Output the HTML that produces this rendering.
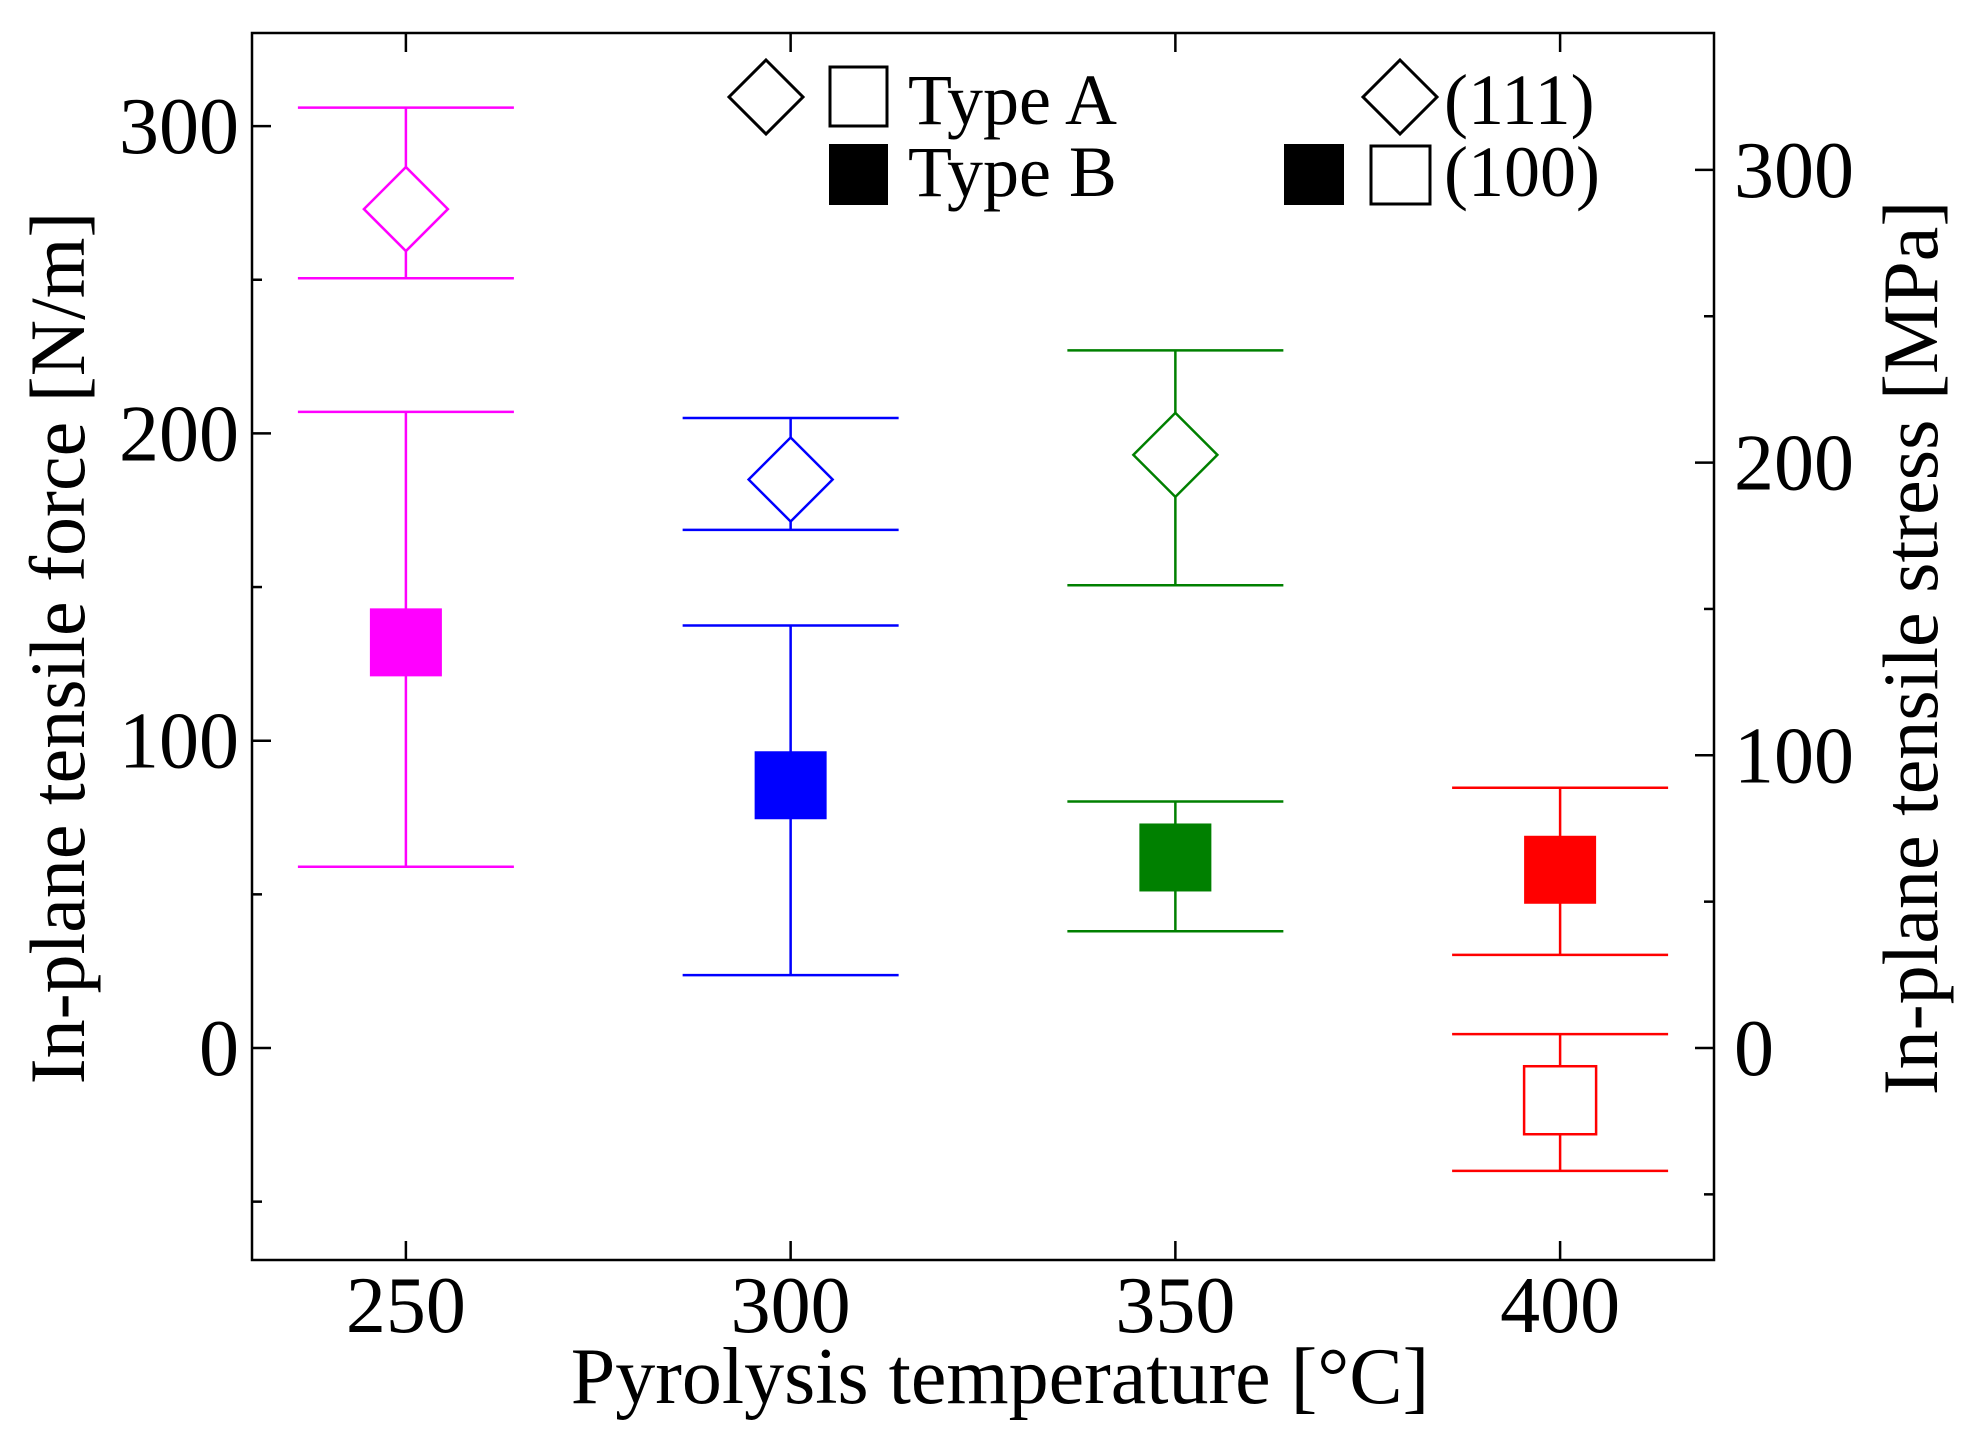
<!DOCTYPE html>
<html><head><meta charset="utf-8"><style>
html,body{margin:0;padding:0;background:#fff;}
svg{display:block;}
text{font-family:"Liberation Serif",serif;fill:#000;}
</style></head><body>
<svg id="chart" width="1962" height="1444" viewBox="0 0 1962 1444" xmlns="http://www.w3.org/2000/svg"></svg>
<script>
const categories = [250, 300, 350, 400];
// (111) diamonds: value, err high, err low (N/m)
const d111Val  = [273, 185, 193, null];
const d111Hi   = [306, 205, 227, null];
const d111Lo   = [250.5, 168.6, 150.6, null];
// (100) filled squares
const sqBVal   = [132, 85.5, 62, 58];
const sqBHi    = [207, 137.5, 80.2, 84.7];
const sqBLo    = [59, 23.7, 38, 30.3];
// (100) open square (Type A)
const sqAVal   = [null, null, null, -17];
const sqAHi    = [null, null, null, 4.5];
const sqALo    = [null, null, null, -40];
const colors   = ["#ff00ff", "#0000ff", "#008000", "#ff0000"];
const leftTicks  = [0, 100, 200, 300];
const rightTicks = [0, 100, 200, 300];
const xTicks     = [250, 300, 350, 400];

const NS = "http://www.w3.org/2000/svg";
const svg = document.getElementById("chart");
const L = 252, R = 1714, T = 33, B = 1260;
const xMin = 230, xMax = 420;
const yL = v => 1048 - v * 3.073;       // left axis N/m
const yR = v => 1048 - v * 2.927;       // right axis MPa
const xS = v => L + (v - xMin) / (xMax - xMin) * (R - L);

function el(tag, attrs, parent) {
  const e = document.createElementNS(NS, tag);
  for (const k in attrs) e.setAttribute(k, attrs[k]);
  (parent || svg).appendChild(e);
  return e;
}

const frame = el("rect", {x: L, y: T, width: R - L, height: B - T, fill: "none", stroke: "#000", "stroke-width": 2.5});



for (let v = -50; v <= 300; v += 50) {
  const y = yL(v), len = v % 100 === 0 ? 19 : 10;
  const t = el("line", {x1: L, x2: L + len, y1: y, y2: y, stroke: "#000", "stroke-width": 2.5});
  
  
}
leftTicks.forEach(v => {
  const t = el("text", {x: 239, y: yL(v) + 27, "text-anchor": "end", "font-size": 80});
  t.textContent = v;
  
  
});
for (let v = -50; v <= 300; v += 50) {
  const y = yR(v), len = v % 100 === 0 ? 19 : 10;
  const t = el("line", {x1: R - len, x2: R, y1: y, y2: y, stroke: "#000", "stroke-width": 2.5});
  
  
}
rightTicks.forEach(v => {
  const t = el("text", {x: 1734, y: yR(v) + 27, "text-anchor": "start", "font-size": 80});
  t.textContent = v;
  
  
});
xTicks.forEach(v => {
  const x = xS(v);
  const a = el("line", {x1: x, x2: x, y1: B, y2: B - 19, stroke: "#000", "stroke-width": 2.5});
  
  
  const b = el("line", {x1: x, x2: x, y1: T, y2: T + 19, stroke: "#000", "stroke-width": 2.5});
  
  
  const t = el("text", {x: x, y: 1332, "text-anchor": "middle", "font-size": 80});
  t.textContent = v;
  
  
});

const xt = el("text", {x: 1000, y: 1403, "text-anchor": "middle", "font-size": 80});
xt.textContent = "Pyrolysis temperature [°C]";


const ylt = el("text", {x: 0, y: 0, "text-anchor": "middle", "font-size": 78, transform: "translate(84,648) rotate(-90)"});
ylt.textContent = "In-plane tensile force [N/m]";


const yrt = el("text", {x: 0, y: 0, "text-anchor": "middle", "font-size": 78, transform: "translate(1937,648) rotate(-90)"});
yrt.textContent = "In-plane tensile stress [MPa]";



const CAP = 108, BOX = 72, DW = 42, DH = 42;
function errbar(x, hi, lo, c, name) {
  const g = el("g", {});
  
  
  el("line", {x1: x, x2: x, y1: yL(hi), y2: yL(lo), stroke: c, "stroke-width": 2.5}, g);
  el("line", {x1: x - CAP, x2: x + CAP, y1: yL(hi), y2: yL(hi), stroke: c, "stroke-width": 2.5}, g);
  el("line", {x1: x - CAP, x2: x + CAP, y1: yL(lo), y2: yL(lo), stroke: c, "stroke-width": 2.5}, g);
}
categories.forEach((cat, i) => {
  const x = xS(cat), c = colors[i];
  if (d111Val[i] !== null) {
    errbar(x, d111Hi[i], d111Lo[i], c, "errorbar-111-" + cat);
    const y = yL(d111Val[i]);
    const d = el("polygon", {points: `${x},${y - DH} ${x + DW},${y} ${x},${y + DH} ${x - DW},${y}`, fill: "#fff", stroke: c, "stroke-width": 2.5});
    
    
  }
  if (sqBVal[i] !== null) {
    errbar(x, sqBHi[i], sqBLo[i], c, "errorbar-typeb-" + cat);
    const y = yL(sqBVal[i]);
    const s = el("rect", {x: x - BOX / 2, y: y - 34, width: BOX, height: 68, fill: c});
    
    
  }
  if (sqAVal[i] !== null) {
    errbar(x, sqAHi[i], sqALo[i], c, "errorbar-typea-" + cat);
    const y = yL(sqAVal[i]);
    const s = el("rect", {x: x - BOX / 2, y: y - 34, width: BOX, height: 68, fill: "#fff", stroke: c, "stroke-width": 2.5});
    
    
  }
});

const lg = el("g", {});


function lgPart(node, name) {
  
  
}
lgPart(el("polygon", {points: "766,60 803,97 766,134 729,97", fill: "#fff", stroke: "#000", "stroke-width": 3}, lg), 'legend-diamond-a');
lgPart(el("rect", {x: 830, y: 67, width: 57, height: 59, fill: "#fff", stroke: "#000", "stroke-width": 3}, lg), 'legend-open-square-a');
let t1 = el("text", {x: 908, y: 124, "font-size": 72}, lg); t1.textContent = "Type A"; lgPart(t1, 'legend-type-a');
lgPart(el("rect", {x: 829, y: 144, width: 59, height: 61, fill: "#000"}, lg), 'legend-filled-square-b');
let t2 = el("text", {x: 908, y: 196, "font-size": 72}, lg); t2.textContent = "Type B"; lgPart(t2, 'legend-type-b');
lgPart(el("polygon", {points: "1400,60 1437,97 1400,134 1363,97", fill: "#fff", stroke: "#000", "stroke-width": 3}, lg), 'legend-diamond-111');
let t3 = el("text", {x: 1444, y: 124, "font-size": 72}, lg); t3.textContent = "(111)"; lgPart(t3, 'legend-111');
lgPart(el("rect", {x: 1284, y: 144, width: 60, height: 61, fill: "#000"}, lg), 'legend-filled-square-100');
lgPart(el("rect", {x: 1371, y: 146, width: 59, height: 58, fill: "#fff", stroke: "#000", "stroke-width": 3}, lg), 'legend-open-square-100');
let t4 = el("text", {x: 1444, y: 196, "font-size": 72}, lg); t4.textContent = "(100)"; lgPart(t4, 'legend-100');
</script>
</body></html>
